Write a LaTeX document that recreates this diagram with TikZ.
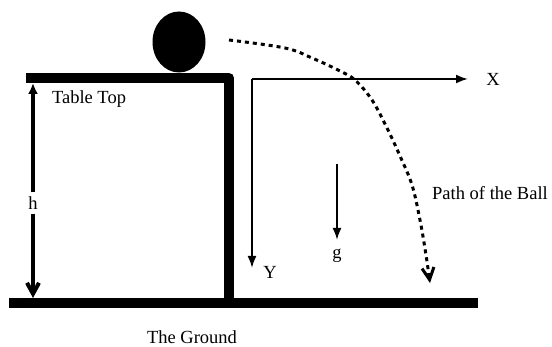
\documentclass[tikz,border=0pt]{standalone}
\usepackage{fontspec}
\setmainfont{Liberation Serif}
\usetikzlibrary{arrows.meta,shapes.geometric}
\begin{document}
\begin{tikzpicture}[x=1pt,y=-1pt,
  lbl/.style={font=\fontsize{18.5}{22}\selectfont, inner sep=1pt},
  axis/.style={line width=2pt, -{Latex[length=12pt,width=9pt]}},
  thick bar/.style={line width=10pt},
]
\useasboundingbox (0,0) rectangle (552,347);
% ground and table
\coordinate (g1) at (9,303.5);
\coordinate (g2) at (478,303.5);
\draw[thick bar] (g1) -- (g2);
\coordinate (t1) at (26,78);
\coordinate (t2) at (229,78);
\coordinate (t3) at (229,299);
\draw[thick bar, line join=round] (t1) -- (t2) -- (t3);
% ball
\node[ellipse, fill=black, minimum width=53pt, minimum height=61pt, inner sep=0] (ball) at (179,42) {};
% h arrow
\node[lbl, fill=white, inner sep=4pt] (h) at (33,203) {h};
\coordinate (ht) at (33,83);
\coordinate (hb) at (33,298);
\draw[line width=4pt, -{Latex[length=11pt,width=10pt]}] (h) -- (ht);
\draw[line width=4pt, -{Straight Barb[length=11pt,width=12pt]}] (h) -- (hb);
\node[lbl] (tt) at (89,99) {Table Top};
% axes
\coordinate (o) at (252,79);
\coordinate (xe) at (468,79);
\coordinate (ye) at (252,268);
\draw[axis] (o) -- (xe);
\draw[axis] (o) -- (ye);
\node[lbl] (X) at (493,79) {X};
\node[lbl] (Y) at (270,272) {Y};
% gravity
\coordinate (gs) at (337,164);
\coordinate (ge) at (337,240);
\draw[axis] (gs) -- (ge);
\node[lbl] (gl) at (337,256) {g};
% path of the ball
\coordinate (p0) at (229,40);
\coordinate (p1) at (430,283);
\draw[line width=3pt, dash pattern=on 4pt off 4pt, -{Straight Barb[length=12pt,width=12pt]}]
  plot[smooth, tension=0.6] coordinates {(p0) (285,48) (312,58) (340,71) (355,80) (372,100) (387,128) (400,156) (412,185) (420,220) (426,255) (p1)};
\node[lbl] (pb) at (490,193) {Path of the Ball};
\node[lbl] (gr) at (192,337) {The Ground};
\end{tikzpicture}
\end{document}
